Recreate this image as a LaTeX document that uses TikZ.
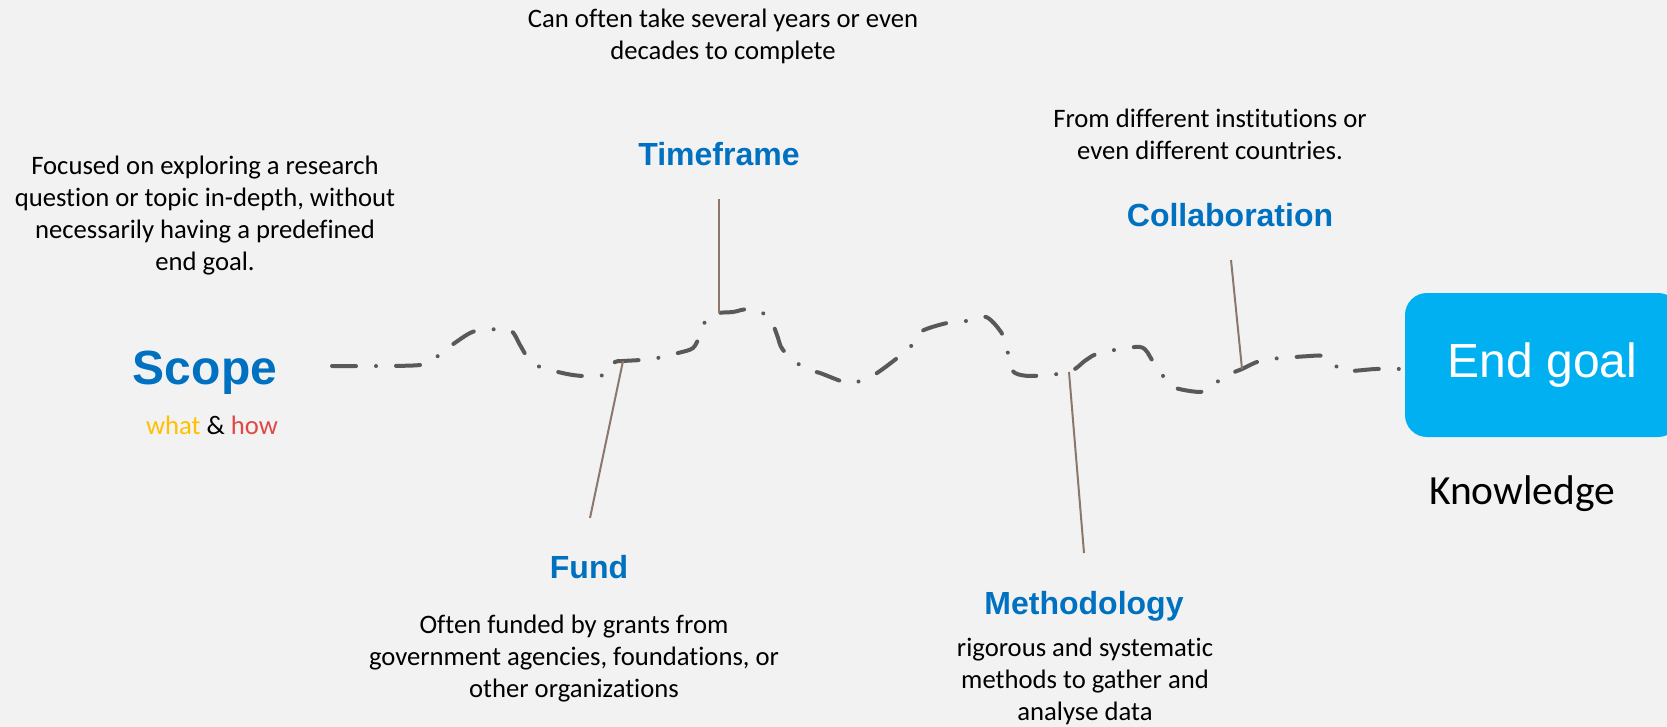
\documentclass[tikz,border=0pt]{standalone}
\usepackage{fontspec}
\setmainfont{Carlito}[Ligatures=NoCommon]
\newfontfamily\headfont{Liberation Sans}
\usepackage{xcolor}
\usetikzlibrary{positioning}
\definecolor{bgpaper}{HTML}{F2F2F2}
\definecolor{headblue}{HTML}{0070C0}
\definecolor{goalblue}{HTML}{00B0F0}
\definecolor{whatyellow}{HTML}{FFC000}
\definecolor{howred}{HTML}{E04848}
\definecolor{leadbrown}{HTML}{8B776B}
\definecolor{wavegray}{HTML}{595959}

\begin{document}
\begin{tikzpicture}[x=1pt,y=-1pt,
    head/.style={font=\headfont\bfseries\fontsize{32}{38}\selectfont,text=headblue},
    note/.style={font=\fontsize{26.67}{32}\selectfont,align=center},
    leader/.style={draw=leadbrown,line width=2pt},
    wave/.style={draw=wavegray,line width=4pt,line cap=round,
      dash pattern=on 24pt off 20pt on 0.01pt off 20pt},
    goal/.style={fill=goalblue,rounded corners=22pt,minimum width=275pt,
      minimum height=144pt,text=white,font=\headfont\fontsize{48}{56}\selectfont}
  ]
    \fill[bgpaper] (0,0) rectangle (1667,727);
    \useasboundingbox (0,0) rectangle (1667,727);

    \node[head,font=\headfont\bfseries\fontsize{48}{56}\selectfont] (scope) at (205,373) {Scope};
    \node[note] (scopehow) at (212,425) {\textcolor{whatyellow}{what} \& \textcolor{howred}{how}};
    \node[note] (scopenote) at (205,216) {Focused on exploring a research\\
      question or topic in-depth, without\\necessarily having a predefined\\end goal.};

    \node[head] (fund) at (589,567) {Fund};
    \node[note] (fundnote) at (574,659) {Often funded by grants from\\
      government agencies, foundations, or\\other organizations};

    \node[head] (time) at (719,154) {Timeframe};
    \node[note] (timenote) at (723,36) {Can often take several years or even\\decades to complete};

    \node[head] (method) at (1084,606) {Methodology};
    \node[note] (methodnote) at (1085,681) {rigorous and systematic\\
      methods to gather and\\analyse data};

    \node[head] (collab) at (1230,215) {Collaboration};
    \node[note] (collabnote) at (1210,134) {From different institutions or\\even different countries.};

    \node[goal] (endgoal) at (1542.5,365) {End goal};
    \node[font=\fontsize{41.5}{48}\selectfont] (know) at (1522,494) {Knowledge};

    \draw[wave] plot[smooth,tension=.5] coordinates {(332,366) (380,366) (420,365)
      (434,359) (445,350) (470,333) (485,330) (510,330) (520,345) (528,358)
      (540,367) (567,374) (583,376) (600,376) (612,370) (615,362) (623,361)
      (652,359) (678,353) (693,348) (700,335) (707,318) (719,313) (733,312)
      (750,309) (769,317) (777,335) (783,350) (804,368) (820,373) (847,383)
      (860,381) (877,373) (901,355) (914,343) (922,331) (947,323) (966,321)
      (986,317) (1001,332) (1007,347) (1009,363) (1015,373) (1032,376)
      (1069,372) (1086,360) (1100,353) (1140,347) (1152,360) (1161,373)
      (1173,387) (1200,392) (1212,387) (1223,377) (1242,369) (1264,360)
      (1310,356) (1324,356) (1333,362) (1343,371) (1376,369) (1404,369)};

    \coordinate (timetop) at (719,199);
    \coordinate (timewave) at (719,313);
    \coordinate (fundtop) at (590,518);
    \coordinate (fundwave) at (623,361);
    \coordinate (methodtop) at (1084,553);
    \coordinate (methodwave) at (1069,372);
    \coordinate (collabtop) at (1231,260);
    \coordinate (collabwave) at (1242,369);
    \draw[leader] (timetop) -- (timewave);
    \draw[leader] (fundtop) -- (fundwave);
    \draw[leader] (methodtop) -- (methodwave);
    \draw[leader] (collabtop) -- (collabwave);
  \end{tikzpicture}
\end{document}
